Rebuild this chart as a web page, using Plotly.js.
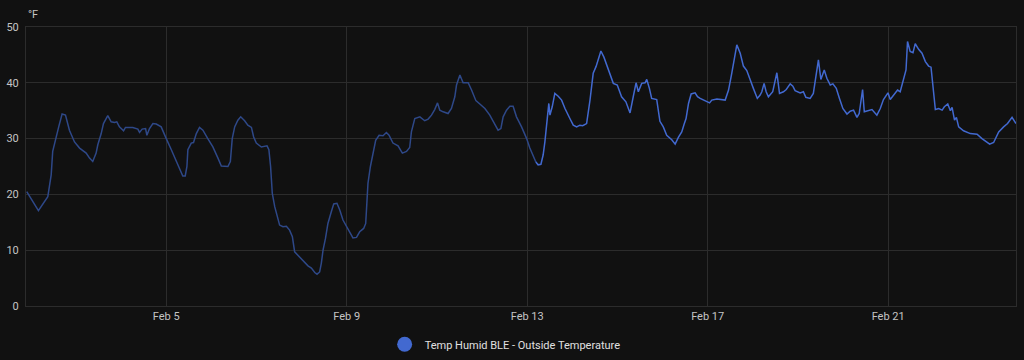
<!DOCTYPE html>
<html>
<head>
<meta charset="utf-8">
<script src="https://cdn.plot.ly/plotly-3.0.1.min.js"></script>
<style>
html,body{margin:0;padding:0;background:#111111;}
#chart{width:1024px;height:360px;}
</style>
</head>
<body>
<div id="chart"></div>
<script>
// hours since 2024-02-01 00:00 and temperature (°F)
const statsHours = [21.8,28.0,33.0,34.8,35.6,37.1,38.8,40.6,42.4,44.5,47.2,49.9,53.4,55.2,56.9,58.7,59.6,61.4,62.6,64.9,66.7,68.5,69.7,71.1,73.3,74.3,78.2,80.9,81.8,83.2,85.0,85.7,87.1,88.9,90.7,93.3,94.2,96.0,98.7,101.3,103.5,104.8,106.1,107.0,107.5,109.3,110.5,112.0,113.7,115.5,118.1,120.8,123.5,125.3,128.8,130.1,131.1,132.4,134.1,135.6,137.7,139.4,141.3,142.5,143.9,146.6,149.6,150.6,151.5,152.4,153.7,154.9,156.3,158.1,159.9,161.6,163.1,164.3,167.0,169.6,171.4,173.2,175.0,176.2,177.6,178.5,179.4,180.7,182.0,183.8,185.1,186.8,188.3,190.0,192.7,195.3,197.2,198.9,201.0,202.1,202.5,203.3,204.6,206.0,207.4,209.2,211.3,213.1,214.5,216.6,219.3,221.6,223.8,225.5,226.4,228.2,230.9,233.5,235.3,237.1,238.8,240.3,241.5,243.3,245.9,247.7,249.5,250.4,252.2,253.9,256.6,258.4,260.7,262.8,265.5,268.1,270.8,272.5,274.0,275.2,277.0,278.8,280.5,282.3,285.0,287.7,289.4,291.2,292.6];
const statsTemps = [20.5,17.1,19.6,23.5,27.7,30.0,32.1,34.4,34.2,31.5,29.4,28.3,27.4,26.5,25.9,27.4,28.9,30.9,32.7,34.1,33.0,32.9,33.0,32.1,31.4,32.0,32.0,31.7,31.1,31.7,31.8,30.6,31.8,32.7,32.6,32.1,31.5,30.0,28.0,25.9,24.4,23.3,23.3,25.0,28.0,29.2,29.3,30.9,32.0,31.5,30.0,28.5,26.5,25.1,25.0,25.9,30.0,32.1,33.3,33.9,33.2,32.4,32.0,30.3,29.2,28.5,28.7,28.0,25.0,20.2,17.8,16.0,14.5,14.2,14.3,13.6,12.4,9.7,8.7,7.9,7.2,6.8,6.0,5.7,6.1,7.7,10.0,12.1,14.8,16.9,18.3,18.4,17.2,15.4,13.9,12.2,12.3,13.3,13.9,14.8,17.2,22.0,25.0,27.4,29.7,30.6,30.5,31.1,30.6,29.2,28.7,27.4,27.7,28.4,31.2,33.6,33.9,33.2,33.5,34.2,35.2,36.4,35.1,34.8,34.5,35.4,37.5,39.6,41.4,40.0,40.0,38.7,36.8,36.2,35.4,34.2,32.4,31.5,31.8,33.9,35.1,35.8,35.8,33.9,32.1,30.0,28.3,26.8,25.8];

const histHours = [292.6,293.8,295.3,296.5,297.4,298.3,299.5,300.1,301.3,302.7,304.5,306.3,308.1,310.7,312.5,314.3,316.0,317.5,319.6,321.4,323.1,324.6,325.8,327.2,328.8,331.1,333.8,335.9,338.2,340.5,342.7,344.4,345.9,347.1,348.9,350.7,351.6,353.0,354.2,356.9,358.6,360.4,362.2,364.9,366.7,368.4,370.2,371.5,372.5,373.8,375.2,377.3,378.6,380.0,382.7,385.0,386.2,388.9,393.3,395.1,396.8,398.1,399.5,401.3,403.0,404.8,406.2,408.3,410.4,411.9,412.8,414.0,415.1,416.3,418.6,420.8,422.2,424.3,425.8,427.9,429.3,430.5,433.2,434.9,436.2,438.5,440.2,441.7,442.9,444.2,446.0,447.4,449.2,450.6,452.4,454.1,455.9,458.1,459.8,461.6,463.4,464.6,466.4,467.3,469.6,471.4,474.0,475.8,477.5,479.9,481.1,482.8,485.0,486.4,488.2,489.5,490.3,491.7,493.2,494.4,496.2,498.0,499.8,501.5,502.8,503.9,505.1,506.9,508.7,509.9,511.7,513.1,514.0,515.3,516.3,517.5,520.1,523.7,527.3,529.9,531.7,534.0,536.1,538.8,541.4,543.5,545.9,548.0];
const histTemps = [25.8,25.3,25.4,27.1,29.4,32.1,36.3,34.2,35.7,38.1,37.6,36.9,35.4,33.6,32.4,32.1,32.4,32.3,32.7,36.9,41.7,42.9,44.1,45.7,44.6,42.3,39.9,39.6,37.5,36.6,34.6,37.5,40.0,38.4,39.9,40.0,40.6,39.0,37.2,37.0,33.1,32.1,30.6,29.8,29.0,30.2,31.2,32.6,33.6,36.3,38.0,38.2,37.5,37.2,36.7,36.4,36.9,37.1,36.9,38.7,41.7,44.4,46.8,45.3,43.0,42.2,40.8,39.0,37.2,37.8,38.4,39.9,38.4,37.5,38.4,41.8,38.1,38.4,38.8,39.8,39.4,38.6,38.2,38.4,37.4,37.2,38.1,41.1,44.1,40.6,42.3,40.8,39.6,39.8,39.0,37.2,35.4,34.4,34.9,35.1,33.8,34.5,38.8,34.8,35.0,35.2,34.2,35.4,37.0,38.2,37.0,37.8,38.7,38.4,40.5,42.3,47.4,45.6,45.4,47.0,46.0,45.3,43.8,43.0,42.8,39.3,35.2,35.4,35.1,35.7,36.2,35.0,35.6,33.3,33.8,32.1,31.4,30.9,30.8,30.0,29.6,29.0,29.3,31.2,32.1,32.7,33.8,32.7];

const seriesName = 'Temp Humid BLE - Outside Temperature';
const unitLabel = '°F';

const base = Date.UTC(2024, 1, 1);
function toTime(h) {
  return new Date(base + h * 3600000).toISOString().replace('T', ' ').slice(0, 19);
}

const gridColor = '#2c2c2c';
const textColor = '#c4c4c4';

const traces = [
  {
    x: statsHours.map(toTime), y: statsTemps,
    type: 'scatter', mode: 'lines',
    line: {color: 'rgb(46,72,136)', width: 1.5},
    showlegend: false, hoverinfo: 'skip'
  },
  {
    x: histHours.map(toTime), y: histTemps,
    type: 'scatter', mode: 'lines',
    line: {color: '#4269d0', width: 1.5},
    showlegend: false, hoverinfo: 'skip'
  },
  {
    x: [null], y: [null],
    type: 'scatter', mode: 'markers',
    marker: {color: '#4269d0', size: 15, symbol: 'circle'},
    name: seriesName, showlegend: true
  }
];

const layout = {
  width: 1024, height: 360,
  paper_bgcolor: '#111111', plot_bgcolor: '#111111',
  margin: {l: 26, r: 8, t: 27, b: 54, autoexpand: false},
  font: {family: 'Roboto, sans-serif', color: textColor, size: 11},
  xaxis: {
    type: 'date',
    range: [toTime(21.4), toTime(548.0)],
    tick0: '2024-02-01', dtick: 4 * 86400000,
    tickformat: '%b %-d',
    showgrid: true, gridcolor: gridColor, gridwidth: 1,
    zeroline: false,
    showline: true, linecolor: gridColor, mirror: true,
    ticks: '', ticklen: 0,
    tickfont: {size: 11, color: textColor},
    automargin: false,
    fixedrange: true
  },
  yaxis: {
    range: [0, 50], dtick: 10, tick0: 0,
    showgrid: true, gridcolor: gridColor, gridwidth: 1,
    zeroline: false,
    showline: true, linecolor: gridColor, mirror: true,
    ticks: '', ticklabelstandoff: 4,
    tickfont: {size: 11, color: textColor},
    automargin: false,
    fixedrange: true
  },
  annotations: [{
    text: unitLabel, xref: 'paper', yref: 'paper',
    x: 0, y: 1, xanchor: 'left', yanchor: 'bottom', yshift: 4, xshift: 0,
    showarrow: false, font: {size: 11, color: textColor}
  }],
  legend: {
    orientation: 'h', x: 0.484, xanchor: 'center',
    y: -0.137, yanchor: 'middle',
    font: {size: 11, color: '#e0e0e0'},
    bgcolor: 'rgba(0,0,0,0)', itemwidth: 30
  },
  showlegend: true
};

Plotly.newPlot('chart', traces, layout, {staticPlot: true, displayModeBar: false});
</script>
</body>
</html>
